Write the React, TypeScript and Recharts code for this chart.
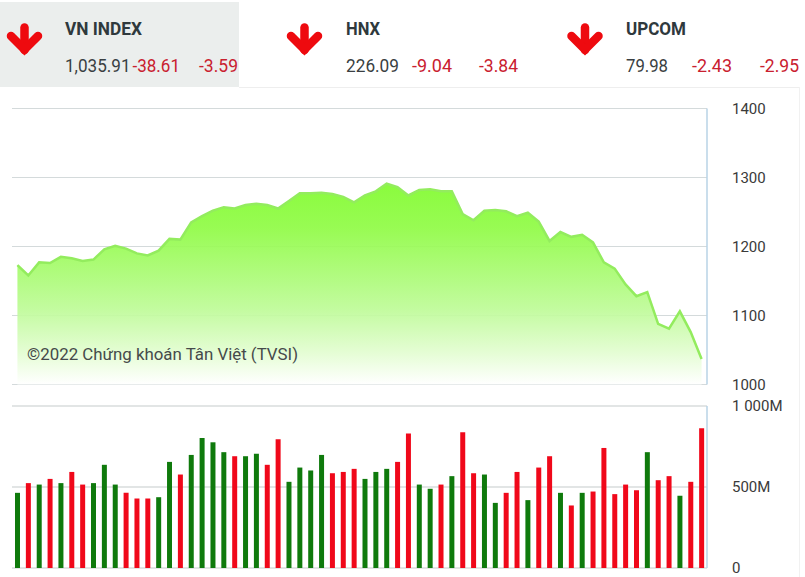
import { Area, Bar, CartesianGrid, Cell, ComposedChart, XAxis, YAxis } from "recharts";

const indexValues = [
  1173, 1158, 1177, 1176, 1185, 1183, 1179, 1181, 1196, 1201, 1197, 1190, 1187, 1194, 1211, 1210,
  1235, 1244, 1252, 1257, 1255, 1260, 1262, 1260, 1255, 1266, 1277, 1277, 1278, 1276, 1272, 1264,
  1274, 1280, 1291, 1286, 1274, 1282, 1283, 1280, 1280, 1247, 1238, 1252, 1253, 1251, 1244, 1249,
  1236, 1208, 1221, 1214, 1217, 1206, 1177, 1168, 1145, 1128, 1134, 1088, 1081, 1106, 1076, 1037,
];

const volumes = [
  464, 524, 515, 550, 524, 593, 515, 524, 637, 515, 464, 429, 429, 437, 655, 577,
  698, 803, 776, 715, 690, 690, 706, 637, 795, 532, 620, 602, 698, 585, 593, 612,
  550, 593, 612, 655, 830, 515, 489, 515, 567, 838, 585, 577, 402, 464, 593, 419,
  620, 690, 464, 386, 464, 472, 741, 456, 515, 480, 715, 542, 567, 446, 532, 862,
];

// g = green bar, r = red bar
const directions = [
  "grgrgrrgggrrrggrggggrggr",
  "rggggrrrgggrrggrgrrggrrg",
  "rrgrgrrrrrgrrgrr",
].join("");

const indexTicks = [1000, 1100, 1200, 1300, 1400];
const volumeTicks = [0, 500, 1000];
const volumeTickLabels = { 0: "0", 500: "500M", 1000: "1 000M" };

const chartData = indexValues.map((close, i) => ({
  session: i,
  close,
  volume: volumes[i],
}));

const panels = [
  { name: "VN INDEX", nameEnd: 142, nameX: 65, arrowX: 24.5, value: "1,035.91", valueEnd: 130.5, change: "-38.61", changeX: 132.5, changeEnd: 180, pct: "-3.59", pctX: 199, pctEnd: 238 },
  { name: "HNX", nameEnd: 380, nameX: 346, arrowX: 304.5, value: "226.09", valueEnd: 399, change: "-9.04", changeX: 412, changeEnd: 452, pct: "-3.84", pctX: 479, pctEnd: 518 },
  { name: "UPCOM", nameEnd: 686, nameX: 626, arrowX: 585, value: "79.98", valueEnd: 668, change: "-2.43", changeX: 692, changeEnd: 732, pct: "-2.95", pctX: 760, pctEnd: 799 },
];

const FONT = "Roboto, sans-serif";
const tickStyle = { fontSize: 15, fontFamily: FONT, fill: "#3a3a3a" };

function Fit({ x, end, y, size, fill, weight = 400, children }: any) {
  return (
    <text x={x} y={y} fontSize={size} fontWeight={weight} fontFamily={FONT} fill={fill} textLength={end - x} lengthAdjust="spacingAndGlyphs">
      {children}
    </text>
  );
}

function Header() {
  return (
    <svg width={805} height={577} style={{ position: "absolute", left: 0, top: 0, pointerEvents: "none" }}>
      <rect x={0} y={2} width={239} height={85} fill="#ebeeed" />
      <line x1={239} y1={87.5} x2={799} y2={87.5} stroke="#eeeeee" />
      <line x1={799.5} y1={87} x2={799.5} y2={577} stroke="#f1f1f1" />
      {panels.map((p) => (
        <g key={p.name}>
          <g fill="none" stroke="#ee0a0f" strokeWidth={8.5} strokeLinecap="round">
            <path d={`M${p.arrowX} 27.5V50`} />
            <path d={`M${p.arrowX - 13.5} 36L${p.arrowX} 49.5L${p.arrowX + 13.5} 36`} />
          </g>
          <Fit x={p.nameX} end={p.nameEnd} y={35} size={18.5} weight={700} fill="#2f393d">{p.name}</Fit>
          <Fit x={p.nameX} end={p.valueEnd} y={72} size={19} fill="#3a3f42">{p.value}</Fit>
          <Fit x={p.changeX} end={p.changeEnd} y={72} size={19} fill="#c9202f">{p.change}</Fit>
          <Fit x={p.pctX} end={p.pctEnd} y={72} size={19} fill="#c9202f">{p.pct}</Fit>
        </g>
      ))}
      <Fit x={27} end={298} y={360} size={17} fill="#454a4a">©2022 Chứng khoán Tân Việt (TVSI)</Fit>
    </svg>
  );
}

export default function App() {
  return (
    <div style={{ position: "absolute", left: 0, top: 0, width: 805, height: 577, background: "#fff", overflow: "hidden" }}>
      <div style={{ position: "absolute", left: 0, top: 0 }}>
        <ComposedChart width={805} height={400} data={chartData} margin={{ top: 108.5, right: 0, bottom: 15.5, left: 12 }}>
          <defs>
            <linearGradient id="indexFill" x1="0" y1="0" x2="0" y2="1">
              <stop offset="0%" stopColor="#84fb33" stopOpacity={0.95} />
              <stop offset="22%" stopColor="#8ffb44" stopOpacity={0.92} />
              <stop offset="62%" stopColor="#bdfb96" stopOpacity={0.92} />
              <stop offset="85%" stopColor="#e4fdd3" stopOpacity={0.92} />
              <stop offset="100%" stopColor="#ffffff" stopOpacity={0.9} />
            </linearGradient>
          </defs>
          <CartesianGrid vertical={false} stroke="#d4dadb" strokeWidth={1.2} />
          <XAxis dataKey="session" scale="band" tick={false} tickLine={false} height={0} axisLine={{ stroke: "#d3dfe6", strokeWidth: 1.5 }} />
          <YAxis
            orientation="right"
            width={98}
            domain={[1000, 1400]}
            ticks={indexTicks}
            interval={0}
            tick={tickStyle}
            tickLine={false}
            tickSize={0}
            tickMargin={25}
            axisLine={{ stroke: "#b9d3e6", strokeWidth: 1.5 }}
          />
          <Area
            type="linear"
            dataKey="close"
            stroke="#93ec5e"
            strokeWidth={2.5}
            fill="url(#indexFill)"
            fillOpacity={1}
            dot={false}
            activeDot={false}
            isAnimationActive={false}
          />
        </ComposedChart>
      </div>
      <div style={{ position: "absolute", left: 0, top: 395 }}>
        <ComposedChart width={805} height={182} data={chartData} margin={{ top: 11, right: 0, bottom: 9, left: 12 }}>
          <CartesianGrid vertical={false} stroke="#d9dcdd" strokeWidth={1.3} />
          <XAxis dataKey="session" scale="band" tick={false} tickLine={false} height={0} axisLine={{ stroke: "#cfdcec", strokeWidth: 1.5, strokeDasharray: "3 5" }} />
          <YAxis
            orientation="right"
            width={98}
            domain={[0, 1000]}
            ticks={volumeTicks}
            interval={0}
            tick={tickStyle}
            tickFormatter={(v) => volumeTickLabels[v]}
            tickLine={false}
            tickSize={0}
            tickMargin={25}
            axisLine={{ stroke: "#b9d3e6", strokeWidth: 1.5 }}
          />
          <Bar dataKey="volume" barSize={5} isAnimationActive={false}>
            {chartData.map((d) => (
              <Cell key={d.session} fill={directions[d.session] === "g" ? "#0f7a0c" : "#f0081a"} />
            ))}
          </Bar>
        </ComposedChart>
      </div>
      <Header />
    </div>
  );
}
